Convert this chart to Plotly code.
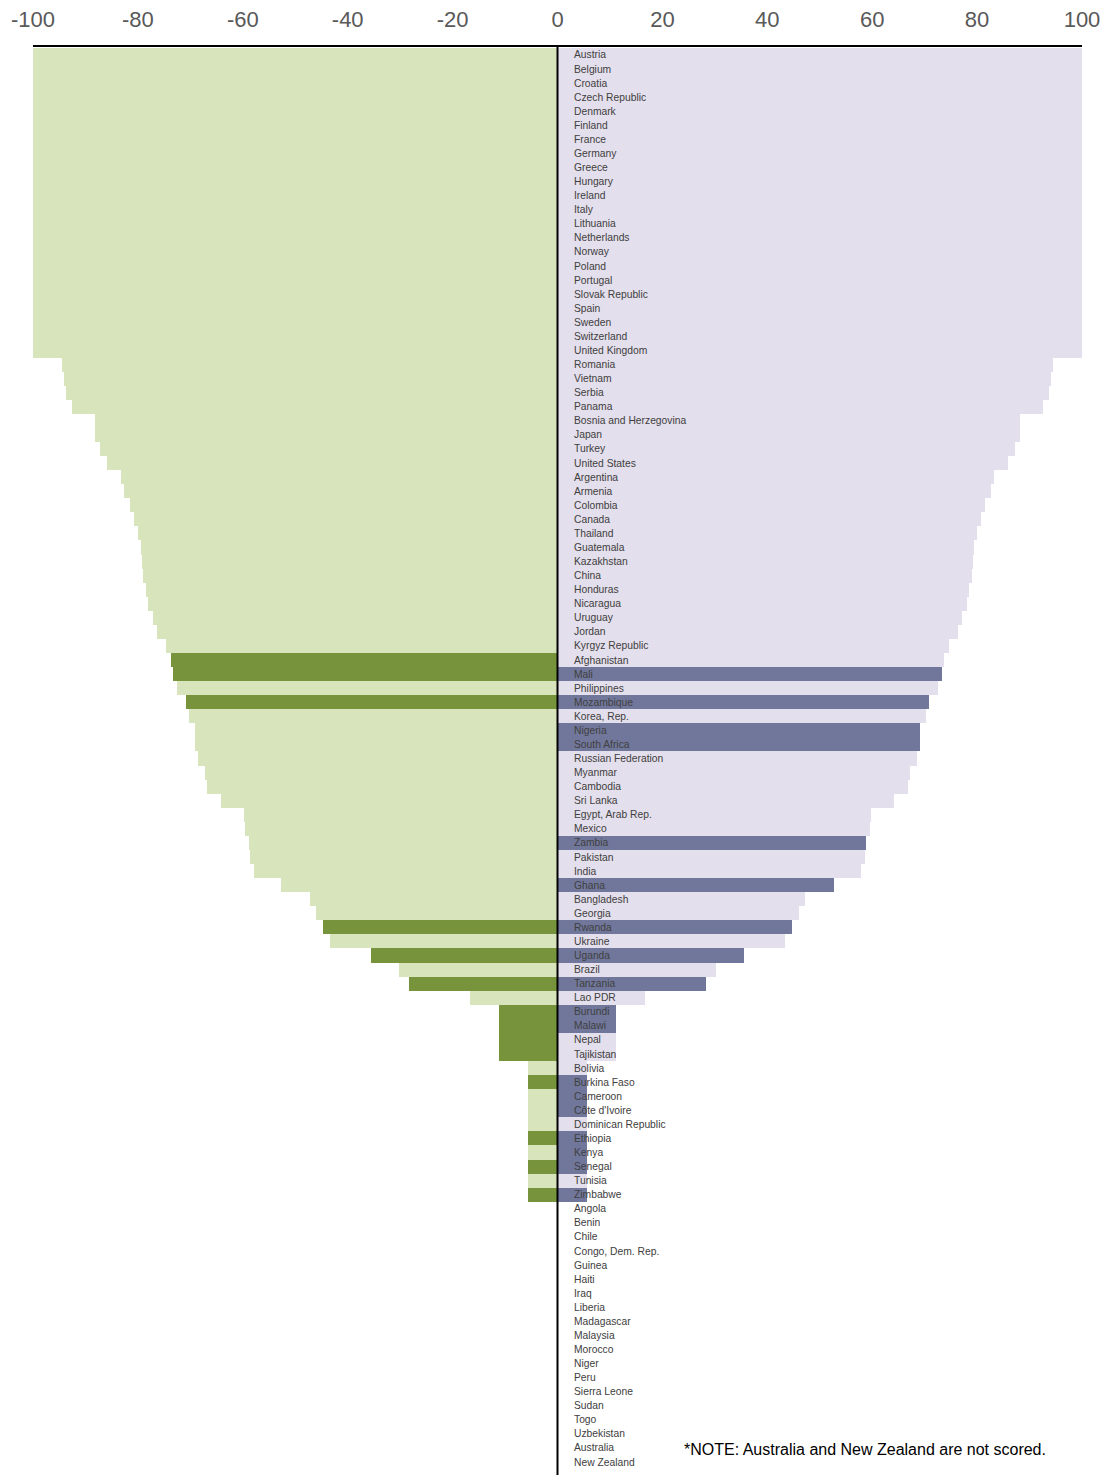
import plotly.graph_objects as go

countries = [
    "Austria", "Belgium", "Croatia", "Czech Republic", "Denmark", "Finland", "France",
    "Germany", "Greece", "Hungary", "Ireland", "Italy", "Lithuania", "Netherlands",
    "Norway", "Poland", "Portugal", "Slovak Republic", "Spain", "Sweden", "Switzerland",
    "United Kingdom", "Romania", "Vietnam", "Serbia", "Panama", "Bosnia and Herzegovina",
    "Japan", "Turkey", "United States", "Argentina", "Armenia", "Colombia", "Canada",
    "Thailand", "Guatemala", "Kazakhstan", "China", "Honduras", "Nicaragua", "Uruguay",
    "Jordan", "Kyrgyz Republic", "Afghanistan", "Mali", "Philippines", "Mozambique",
    "Korea, Rep.", "Nigeria", "South Africa", "Russian Federation", "Myanmar", "Cambodia",
    "Sri Lanka", "Egypt, Arab Rep.", "Mexico", "Zambia", "Pakistan", "India", "Ghana",
    "Bangladesh", "Georgia", "Rwanda", "Ukraine", "Uganda", "Brazil", "Tanzania",
    "Lao PDR", "Burundi", "Malawi", "Nepal", "Tajikistan", "Bolivia", "Burkina Faso",
    "Cameroon", "Côte d'Ivoire", "Dominican Republic", "Ethiopia", "Kenya", "Senegal",
    "Tunisia", "Zimbabwe", "Angola", "Benin", "Chile", "Congo, Dem. Rep.", "Guinea",
    "Haiti", "Iraq", "Liberia", "Madagascar", "Malaysia", "Morocco", "Niger", "Peru",
    "Sierra Leone", "Sudan", "Togo", "Uzbekistan", "Australia", "New Zealand",
]

scores = [
    100, 100, 100, 100, 100, 100, 100, 100, 100, 100, 100, 100, 100, 100, 100, 100,
    100, 100, 100, 100, 100, 100,
    94.4, 94.0, 93.8, 92.5, 88.1, 88.1, 87.2, 85.9, 83.3, 82.6, 81.6, 80.7, 79.9,
    79.4, 79.2, 79.1, 78.5, 78.0, 77.2, 76.4, 74.6, 73.6, 73.3, 72.5, 70.8, 70.3,
    69.2, 69.2, 68.5, 67.3, 66.8, 64.1, 59.7, 59.5, 58.9, 58.7, 57.8, 52.7, 47.1,
    46.0, 44.7, 43.3, 35.5, 30.3, 28.3, 16.7, 11.1, 11.1, 11.1, 11.1, 5.6, 5.6,
    5.6, 5.6, 5.6, 5.6, 5.6, 5.6, 5.6, 5.6,
    0, 0, 0, 0, 0, 0, 0, 0, 0, 0, 0, 0, 0, 0, 0, 0, 0, 0, 0,
]

left_highlight = [
    "Afghanistan", "Mali", "Mozambique", "Rwanda", "Uganda", "Tanzania", "Burundi",
    "Malawi", "Nepal", "Tajikistan", "Burkina Faso", "Ethiopia", "Senegal", "Zimbabwe",
]
right_highlight = [
    "Mali", "Mozambique", "Nigeria", "South Africa", "Zambia", "Ghana", "Rwanda",
    "Uganda", "Tanzania", "Burundi", "Malawi", "Burkina Faso", "Cameroon",
    "Côte d'Ivoire", "Ethiopia", "Kenya", "Senegal", "Zimbabwe",
]

x_ticks = [-100, -80, -60, -40, -20, 0, 20, 40, 60, 80, 100]
note_text = "*NOTE: Australia and New Zealand are not scored."

GREEN_LIGHT, GREEN_DARK = "#d8e4bc", "#77933c"
LAV_LIGHT, LAV_DARK = "#e4dfec", "#70779b"
FONT = "Liberation Sans, Arial, sans-serif"

left_colors = [GREEN_DARK if c in left_highlight else GREEN_LIGHT for c in countries]
right_colors = [LAV_DARK if c in right_highlight else LAV_LIGHT for c in countries]

fig = go.Figure()
fig.add_trace(go.Bar(
    y=countries, x=[-v for v in scores], orientation="h",
    marker=dict(color=left_colors, line=dict(width=0)),
    width=1.0, hoverinfo="skip", showlegend=False,
))
fig.add_trace(go.Bar(
    y=countries, x=scores, orientation="h",
    marker=dict(color=right_colors, line=dict(width=0)),
    width=1.0, hoverinfo="skip", showlegend=False,
))

for c in countries:
    fig.add_annotation(
        x=2.8, y=c, xref="x", yref="y", text=c, showarrow=False,
        xanchor="left", yanchor="middle",
        font=dict(family=FONT, size=10.3, color="#404040"),
    )

# figure geometry (page body has an 8px margin)
W, H = 1100, 1467
ML, MR, MT, MB = 24.5, 25.5, 38.5, 0
PW, PH = W - ML - MR, H - MT - MB

fig.add_annotation(
    x=(674 - ML) / PW, y=1 - (1441 - MT) / PH, xref="paper", yref="paper",
    text=note_text, showarrow=False, xanchor="left", yanchor="middle",
    font=dict(family=FONT, size=16, color="#000000"),
)

fig.add_shape(
    type="line", x0=0, x1=0, y0=0, y1=1, xref="x", yref="paper",
    line=dict(color="black", width=2), layer="above",
)

fig.update_layout(
    width=W, height=H,
    margin=dict(l=ML, r=MR, t=MT, b=MB, pad=0, autoexpand=False),
    paper_bgcolor="white", plot_bgcolor="white",
    barmode="overlay", bargap=0,
    xaxis=dict(
        side="top", range=[-100, 100], tickvals=x_ticks,
        ticktext=[str(t) for t in x_ticks],
        showgrid=False, zeroline=False,
        showline=True, linecolor="black", linewidth=2,
        ticks="outside", ticklen=9, tickcolor="rgba(0,0,0,0)",
        tickfont=dict(family=FONT, size=22, color="#595959"),
        automargin=False, fixedrange=True,
    ),
    yaxis=dict(
        type="category", range=[100.92, -0.568],
        showticklabels=False, showgrid=False, zeroline=False, showline=False,
        ticks="", automargin=False, fixedrange=True,
    ),
    font=dict(family=FONT),
)

fig.write_html("out.html")
